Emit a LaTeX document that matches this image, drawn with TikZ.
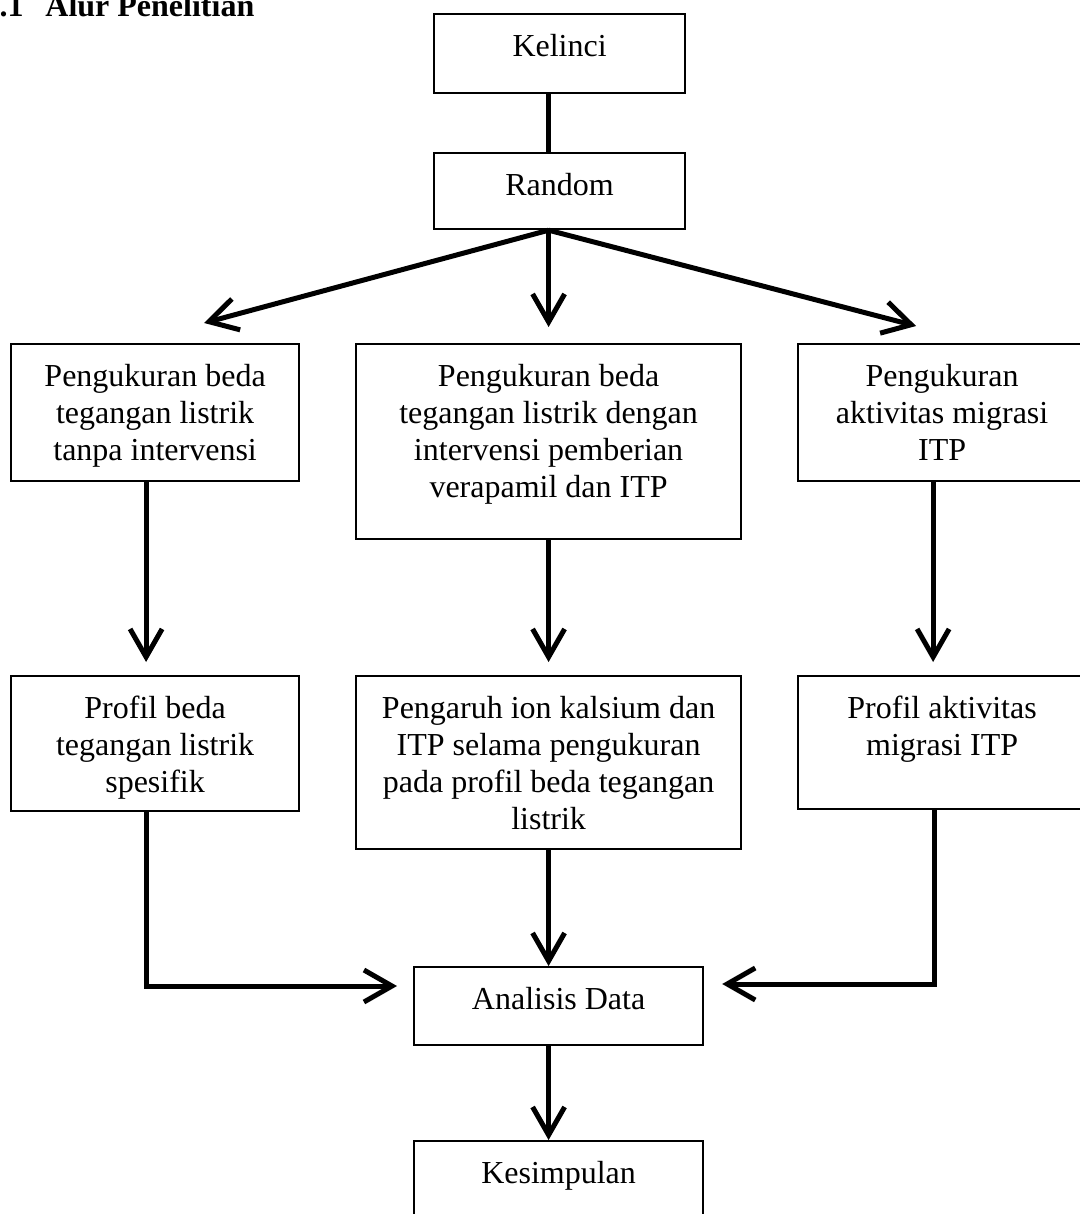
\documentclass[tikz,border=0pt]{standalone}
\usepackage{fontspec}
\setmainfont{Liberation Serif}
\usetikzlibrary{arrows.meta,calc}

\tikzset{
  stepbox/.style={draw, line width=1.1pt, rectangle, inner sep=0pt, anchor=north west},
  txt/.style={font=\fontsize{16}{18.5}\selectfont, align=center, inner sep=0pt, anchor=north},
  conn/.style={line width=2.5pt},
  arr/.style={conn, -{Straight Barb[length=14pt, width=16pt, line width=2.5pt]}},
}

\begin{document}
\begin{tikzpicture}[x=0.5pt, y=-0.5pt]
  \useasboundingbox (0,0) rectangle (1080,1214);
  \clip (0,0) rectangle (1080,1214);
  \fill[white] (0,0) rectangle (1080,1214);

  % section heading
  \node[font=\fontsize{16}{18.5}\selectfont\bfseries, inner sep=0pt, anchor=base east] (secno) at (24,17) {3.1};
  \node[font=\fontsize{16}{18.5}\selectfont\bfseries, inner sep=0pt, anchor=base west] (sectitle) at (45,17) {Alur Penelitian};

  % boxes
  \node[stepbox, minimum width=125.5pt, minimum height=39.5pt] (kel) at (433,13) {};
  \node[stepbox, minimum width=125.5pt, minimum height=38pt]   (ran) at (433,152) {};
  \node[stepbox, minimum width=144pt,   minimum height=68.5pt] (l1)  at (10,343) {};
  \node[stepbox, minimum width=192.5pt, minimum height=97.5pt] (m1)  at (355,343) {};
  \node[stepbox, minimum width=144pt,   minimum height=68.5pt] (r1)  at (797,343) {};
  \node[stepbox, minimum width=144pt,   minimum height=67.5pt] (l2)  at (10,675) {};
  \node[stepbox, minimum width=192.5pt, minimum height=86.5pt] (m2)  at (355,675) {};
  \node[stepbox, minimum width=144pt,   minimum height=66.5pt] (r2)  at (797,675) {};
  \node[stepbox, minimum width=144.5pt, minimum height=39pt]   (ana) at (413,966) {};
  \node[stepbox, minimum width=144.5pt, minimum height=50pt]   (kes) at (413,1140) {};

  % box texts
  \node[txt] (kel-t) at ([yshift=-10.5pt]kel.north) {Kelinci};
  \node[txt] (ran-t) at ([yshift=-10.5pt]ran.north) {Random};
  \node[txt] (l1-t)  at ([yshift=-10.5pt]l1.north)  {Pengukuran beda\\tegangan listrik\\tanpa intervensi};
  \node[txt] (m1-t)  at ([yshift=-10.5pt]m1.north)  {Pengukuran beda\\tegangan listrik dengan\\intervensi pemberian\\verapamil dan ITP};
  \node[txt] (r1-t)  at ([yshift=-10.5pt]r1.north)  {Pengukuran\\aktivitas migrasi\\ITP};
  \node[txt] (l2-t)  at ([yshift=-10.5pt]l2.north)  {Profil beda\\tegangan listrik\\spesifik};
  \node[txt] (m2-t)  at ([yshift=-10.5pt]m2.north)  {Pengaruh ion kalsium dan\\ITP selama pengukuran\\pada profil beda tegangan\\listrik};
  \node[txt] (r2-t)  at ([yshift=-10.5pt]r2.north)  {Profil aktivitas\\migrasi ITP};
  \node[txt] (ana-t) at ([yshift=-10.5pt]ana.north) {Analisis Data};
  \node[txt] (kes-t) at ([yshift=-10.5pt]kes.north) {Kesimpulan};

  % connector ends
  \coordinate (fork) at (ran.south -| m1.north);
  \coordinate (tl) at ($(l1.north)+(49,-20)$);
  \coordinate (tm) at ($(m1.north)+(0,-16)$);
  \coordinate (tr) at ($(r1.north)+(-26,-17)$);
  \coordinate (al) at ($(ana.north west)+(-16,20)$);
  \coordinate (ar) at ($(ana.north east)+(18,18)$);

  % connectors
  \draw[conn] (kel.south -| m1.north) -- (ran.north -| m1.north);
  \draw[arr] (fork) -- (tl);
  \draw[arr] (fork) -- (tm);
  \draw[arr] (fork) -- (tr);
  \draw[arr] ($(l1.south)+(-9,0)$) -- ($(l2.north)+(-9,-13)$);
  \draw[arr] (m1.south) -- ($(m2.north)+(0,-13)$);
  \draw[arr] ($(r1.south)+(-9,0)$) -- ($(r2.north)+(-9,-13)$);
  \draw[arr] ($(l2.south)+(-9,0)$) |- (al);
  \draw[arr] ($(r2.south)+(-8,0)$) |- (ar);
  \draw[arr] (m2.south) -- (ana.north -| m2.south);
  \draw[arr] (ana.south -| m2.south) -- (kes.north -| m2.south);
\end{tikzpicture}
\end{document}
